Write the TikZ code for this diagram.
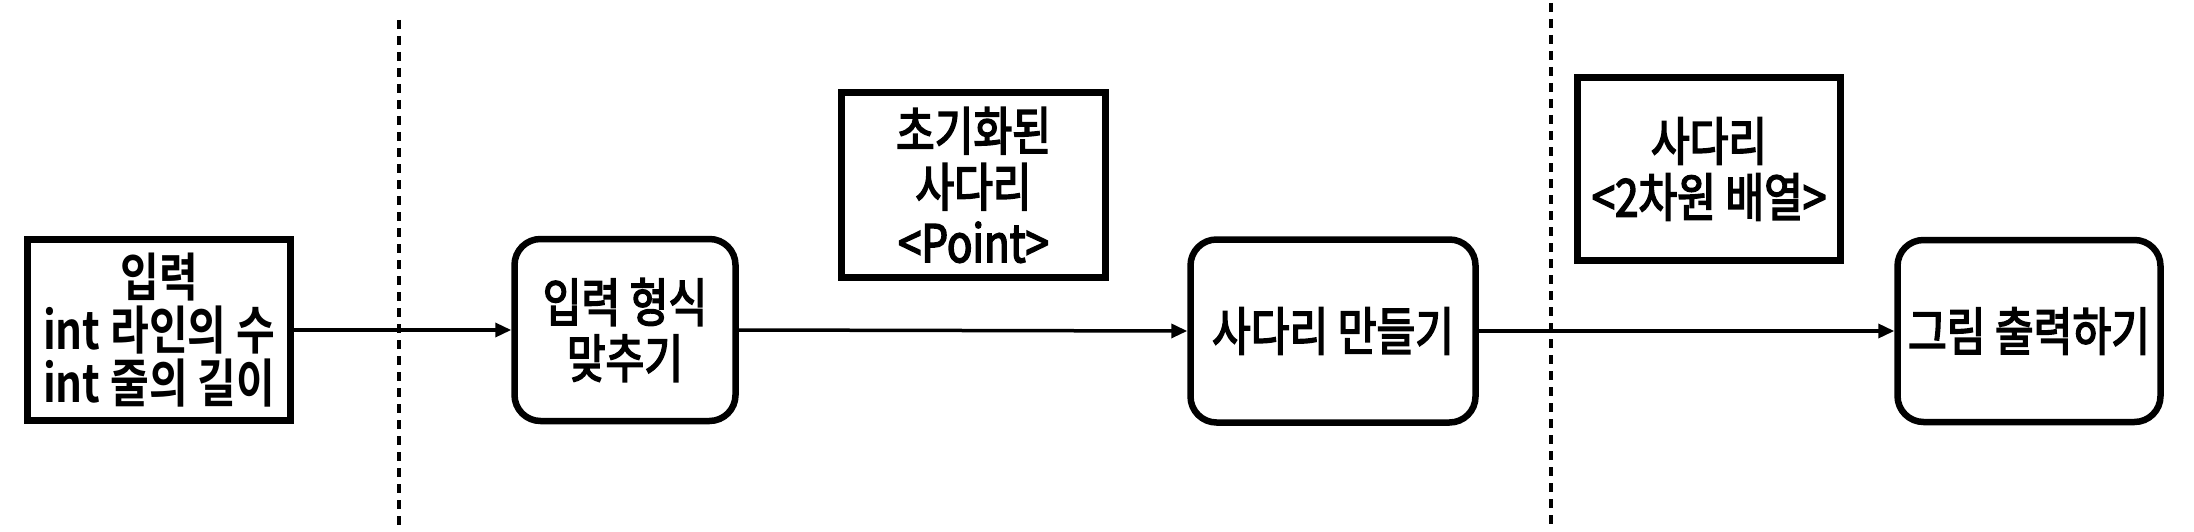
\documentclass[tikz,border=0pt]{standalone}
\usepackage{fontspec}
\setmainfont{Noto Sans CJK KR}[BoldFont={* Bold}, FakeStretch=0.81]
\newfontfamily\krm{Noto Sans CJK KR}[FakeBold=3, FakeStretch=0.81]
\usetikzlibrary{arrows.meta}
\tikzset{
  sqbox/.style={draw, line width=6.5pt, align=center, inner sep=0pt,
    font=\krm\fontsize{52}{56}\selectfont},
  rndbox/.style={sqbox, rounded corners=26pt},
  conn/.style={line width=3.5pt, -{Triangle[length=16pt,width=14pt]}},
  divider/.style={line width=4pt, dash pattern=on 9pt off 7pt},
}
\begin{document}
\begin{tikzpicture}[x=1pt,y=-1pt]
\useasboundingbox (0,0) rectangle (2194,532);
\node[sqbox, minimum width=263pt, minimum height=181pt, font=\bfseries\fontsize{52}{53}\selectfont] (in) at (159,330) {입력\\int 라인의 수\\int 줄의 길이};
\node[rndbox, minimum width=221pt, minimum height=182pt] (fmt) at (625,330) {입력 형식\\맞추기};
\node[sqbox, minimum width=264pt, minimum height=185pt] (pt) at (973.5,185) {초기화된\\사다리\\<Point>};
\node[rndbox, minimum width=285pt, minimum height=183pt] (make) at (1333,331) {사다리 만들기};
\node[sqbox, minimum width=263pt, minimum height=183pt] (arr) at (1709,169) {사다리\\<2차원 배열>};
\node[rndbox, minimum width=263pt, minimum height=182pt] (draw) at (2029,331) {그림 출력하기};
\coordinate (d1t) at (399,20);
\coordinate (d1b) at (399,529);
\coordinate (d2t) at (1551,3);
\coordinate (d2b) at (1551,529);
\draw[divider] (d1t) -- (d1b);
\draw[divider] (d2t) -- (d2b);
\draw[conn] (in.east) -- (fmt.west);
\draw[conn] (fmt.east) -- (make.west);
\draw[conn] (make.east) -- (draw.west);
\end{tikzpicture}
\end{document}
